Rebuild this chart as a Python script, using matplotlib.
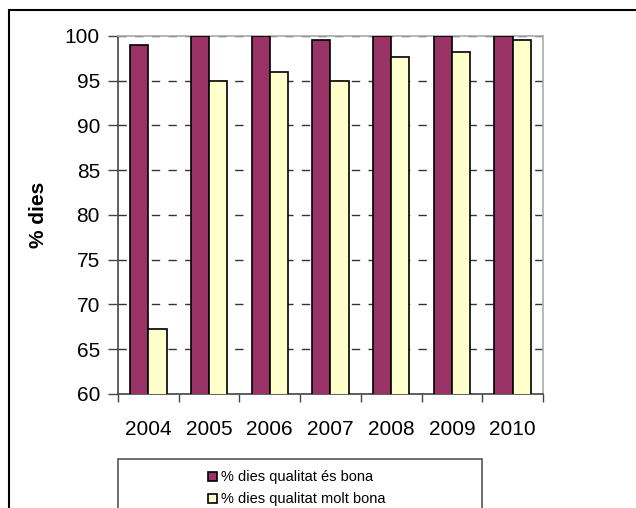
import numpy as np
import matplotlib.pyplot as plt
from matplotlib.patches import Rectangle

# dades
anys = ['2004', '2005', '2006', '2007', '2008', '2009', '2010']
bona = [99.0, 100, 100, 99.6, 100, 100, 100]        # % dies qualitat és bona
molt_bona = [67.3, 95.0, 96.0, 95.0, 97.6, 98.2, 99.6]  # % dies qualitat molt bona
etiquetes = ['% dies qualitat és bona', '% dies qualitat molt bona']

plt.rcParams['font.family'] = ['Liberation Sans', 'DejaVu Sans']

fig = plt.figure(figsize=(6.36, 5.08), dpi=100)
W, H = 636, 508
ax = fig.add_axes([118 / W, 1 - 394 / H, 425 / W, 358 / H])

x = np.arange(len(anys))
w = 0.3
b1 = ax.bar(x - w / 2, bona, w, color='#993366', edgecolor='black',
            linewidth=1.2, label=etiquetes[0], zorder=3)
b2 = ax.bar(x + w / 2, molt_bona, w, color='#FFFFCC', edgecolor='black',
            linewidth=1.2, label=etiquetes[1], zorder=3)

ax.set_xlim(-0.5, len(anys) - 0.5)
ax.set_ylim(60, 100)
ax.set_yticks(range(60, 101, 5))
ax.yaxis.grid(True, linestyle=(0, (6, 6)), color='#333333', linewidth=1)
ax.set_axisbelow(True)

# ticks de l'eix x entre categories
ax.set_xticks(np.arange(-0.5, len(anys), 1))
ax.set_xticklabels([])
ax.set_xticks(x, minor=True)
ax.set_xticklabels(anys, minor=True, fontsize=15)
ax.tick_params(axis='x', which='minor', length=0, pad=19)
ax.tick_params(axis='x', which='major', length=6, width=1, color='#444444', direction='out')
ax.tick_params(axis='y', length=7, width=1, color='#444444', labelsize=15, pad=6)

for s in ['left', 'bottom']:
    ax.spines[s].set_color('#444444')
    ax.spines[s].set_linewidth(1.2)
for s in ['right', 'top']:
    ax.spines[s].set_color('#aaaaaa')
    ax.spines[s].set_linewidth(1.2)

ax.set_ylabel('% dies', fontsize=15, fontweight='bold', labelpad=12)

# marc exterior i marc de la llegenda
fig.patches.append(Rectangle((9 / W, -0.1), 1.2, 1.1 - 10 / H, transform=fig.transFigure,
                             fill=False, edgecolor='black', linewidth=1.5))
fig.patches.append(Rectangle((118 / W, -0.1), (482 - 118) / W, 0.1 + 1 - 459 / H,
                             transform=fig.transFigure, fill=False,
                             edgecolor='#555555', linewidth=1.2))

fig.legend(handles=[b1, b2], loc='upper left', bbox_to_anchor=(201 / W, 1 - 463 / H),
           frameon=False, fontsize=10.5, handlelength=0.6, handleheight=0.6,
           handletextpad=0.3, labelspacing=0.55, borderpad=0)

fig.savefig('out.png', dpi=100)
